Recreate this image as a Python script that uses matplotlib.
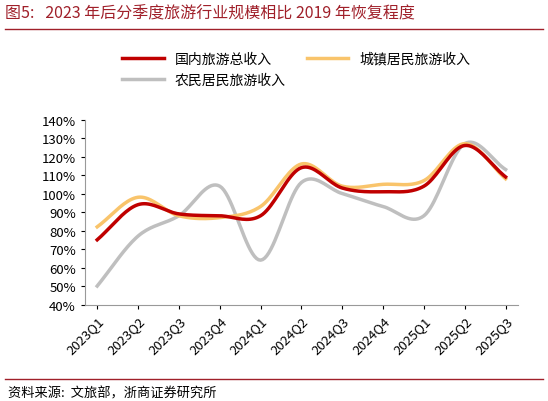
import numpy as np
import matplotlib
matplotlib.use("Agg")
import matplotlib.pyplot as plt

plt.rcParams['font.family'] = ['Noto Sans CJK SC', 'DejaVu Sans']

quarters = ["2023Q1","2023Q2","2023Q3","2023Q4","2024Q1","2024Q2","2024Q3","2024Q4","2025Q1","2025Q2","2025Q3"]
total = [75, 94, 89, 88, 88, 114, 103, 101, 104, 126, 109]
urban = [82, 98, 88, 87, 93, 116, 104, 105, 107, 127, 108]
rural = [50, 77, 88, 104, 64, 106, 100, 93, 88, 127, 113]

def smooth(y, n=20):
    y = np.asarray(y, float)
    p = np.concatenate([[2*y[0]-y[1]], y, [2*y[-1]-y[-2]]])
    xs, ys = [], []
    for i in range(1, len(p)-2):
        t = np.linspace(0, 1, n, endpoint=False)
        p0, p1, p2, p3 = p[i-1], p[i], p[i+1], p[i+2]
        v = 0.5*((2*p1) + (-p0+p2)*t + (2*p0-5*p1+4*p2-p3)*t**2 + (-p0+3*p1-3*p2+p3)*t**3)
        xs.append(i-1+t); ys.append(v)
    xs.append([len(y)-1]); ys.append([y[-1]])
    return np.concatenate(xs), np.concatenate(ys)

fig = plt.figure(figsize=(5.48, 4.02), dpi=100)
ax = fig.add_axes([0.155, 0.24, 0.79, 0.46])
for data, col, lab in [(rural, "#bfbfbf", "农民居民旅游收入"), (urban, "#f9c46b", "城镇居民旅游收入"), (total, "#c00000", "国内旅游总收入")]:
    x, y = smooth(data)
    ax.plot(x, y, color=col, lw=2.5, label=lab)
ax.set_ylim(40, 140)
ax.set_yticks(range(40, 141, 10))
ax.set_yticklabels([f"{v}%" for v in range(40, 141, 10)], fontsize=9.5)
ax.set_xlim(-0.3, 10.3)
ax.set_xticks(range(len(quarters)))
ax.set_xticklabels(quarters, rotation=45, ha='right', rotation_mode='anchor', fontsize=9.5)
for s in ['top', 'right']:
    ax.spines[s].set_visible(False)
ax.spines['left'].set_color('#999999'); ax.spines['bottom'].set_color('#999999')
ax.tick_params(length=3, colors='#000000')

h, l = ax.get_legend_handles_labels()
order = [2, 0, 1]
fig.legend([h[i] for i in order], [l[i] for i in order], loc='upper left', bbox_to_anchor=(0.2, 0.9),
           ncol=2, frameon=False, fontsize=10, handlelength=3, columnspacing=1.5)

fig.text(0.01, 0.955, "图5:   2023 年后分季度旅游行业规模相比 2019 年恢复程度", fontsize=11.5, color="#a0202a")
fig.add_artist(plt.Line2D([0.01, 0.99], [0.925, 0.925], color="#a0202a", lw=1))
fig.add_artist(plt.Line2D([0.01, 0.99], [0.055, 0.055], color="#a0202a", lw=1))
fig.text(0.015, 0.01, "资料来源:  文旅部，浙商证券研究所", fontsize=9.5)
fig.savefig("out.png", dpi=100)
